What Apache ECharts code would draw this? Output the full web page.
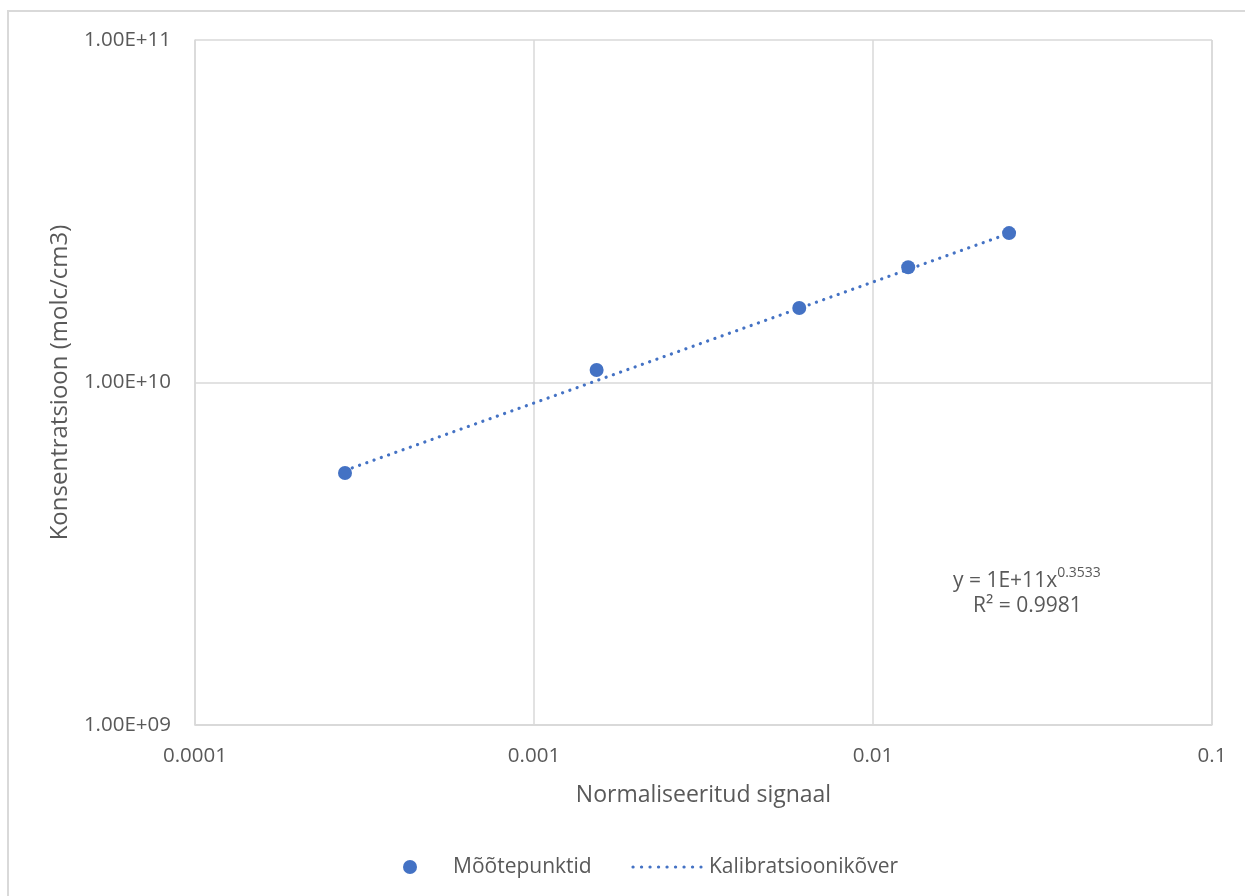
<!DOCTYPE html>
<html>
<head>
<meta charset="utf-8">
<script src="https://cdn.jsdelivr.net/npm/echarts@6/dist/echarts.min.js"></script>
<style>
  html, body { margin: 0; padding: 0; background: #fff; }
  #chart { width: 1245px; height: 896px; }
</style>
</head>
<body>
<div id="chart"></div>
<script>
// Measured points: normalised signal vs. concentration (molc/cm3)
const signal = [0.000277, 0.00153, 0.00606, 0.0127, 0.0252];
const concentration = [5.44e9, 1.088e10, 1.65e10, 2.17e10, 2.73e10];

// Power-law calibration fit: y = A * x^b
const fitA = 1e11;
const fitB = 0.3533;
const fitR2 = 0.9981;

const xMin = 0.0001, xMax = 0.1;
const yMin = 1e9, yMax = 1e11;
const xTickLabels = ['0.0001', '0.001', '0.01', '0.1'];
const yTickLabels = ['1.00E+09', '1.00E+10', '1.00E+11'];

const seriesNames = ['Mõõtepunktid', 'Kalibratsioonikõver'];
const xTitle = 'Normaliseeritud signaal';
const yTitle = 'Konsentratsioon (molc/cm3)';

const FONT = '"Open Sans", sans-serif';
const TXT = '#595959';
const GRID = '#d9d9d9';
const BLUE = '#4472C4';

// straight on log-log axes, so the ends of the fitted range suffice
const xFirst = signal[0], xLast = signal[signal.length - 1];
const fitLine = [xFirst, xLast].map(x => [x, fitA * Math.pow(x, fitB)]);

// decade label lookup by value
const decadeLabel = (labels, base) => v => {
  const k = Math.round(Math.log10(v / base));
  return labels[k] !== undefined ? labels[k] : '';
};

const DOTS = [0.1, 7.6];
const LEGEND_Y = 867;

const chart = echarts.init(document.getElementById('chart'), null, { renderer: 'canvas' });
chart.setOption({
  animation: false,
  backgroundColor: '#fff',
  textStyle: { fontFamily: FONT },
  grid: { left: 195, right: 33, top: 40, bottom: 171 },
  xAxis: {
    type: 'log', logBase: 10, min: xMin, max: xMax,
    name: xTitle, nameLocation: 'middle', nameGap: 59,
    nameTextStyle: { color: TXT, fontSize: 23, fontFamily: FONT },
    axisLine: { show: true, lineStyle: { color: GRID, width: 1.5 } },
    axisTick: { show: false },
    splitLine: { show: true, lineStyle: { color: GRID, width: 1.5 } },
    axisLabel: {
      color: TXT, fontSize: 20.5, fontFamily: FONT, margin: 21,
      showMinLabel: true, showMaxLabel: true,
      formatter: decadeLabel(xTickLabels, xMin)
    }
  },
  yAxis: {
    type: 'log', logBase: 10, min: yMin, max: yMax,
    name: yTitle, nameLocation: 'middle', nameGap: 123,
    nameTextStyle: { color: TXT, fontSize: 24, fontFamily: FONT },
    axisLine: { show: true, lineStyle: { color: GRID, width: 1.5 } },
    axisTick: { show: false },
    splitLine: { show: true, lineStyle: { color: GRID, width: 1.5 } },
    axisLabel: {
      color: TXT, fontSize: 20.5, fontFamily: FONT, margin: 24,
      showMinLabel: true, showMaxLabel: true,
      formatter: decadeLabel(yTickLabels, yMin)
    }
  },
  series: [
    {
      name: seriesNames[1],
      type: 'line',
      data: fitLine,
      showSymbol: false,
      symbol: 'none',
      z: 2,
      lineStyle: { color: BLUE, width: 3.2, type: DOTS, cap: 'round' },
      itemStyle: { color: BLUE }
    },
    {
      name: seriesNames[0],
      type: 'scatter',
      data: signal.map((x, i) => [x, concentration[i]]),
      symbol: 'circle',
      symbolSize: 14,
      z: 3,
      itemStyle: { color: BLUE, opacity: 1 }
    }
  ],
  graphic: [
    {
      type: 'rect', silent: true, z: -1,
      shape: { x: 8, y: 11, width: 1300, height: 1000 },
      style: { fill: 'transparent', stroke: GRID, lineWidth: 2 }
    },
    // fit equation and goodness of fit
    {
      type: 'text', left: 953, top: 562,
      style: {
        text: '{b|y = 1E+11x}{s|' + fitB.toFixed(4) + '}',
        rich: {
          b: { fontSize: 21, fontFamily: FONT, fill: TXT, lineHeight: 30, verticalAlign: 'bottom' },
          s: { fontSize: 14, fontFamily: FONT, fill: TXT, lineHeight: 30, verticalAlign: 'top', padding: [4, 0, 0, 0] }
        }
      }
    },
    {
      type: 'text',
      style: { x: 973, y: 606, verticalAlign: 'middle', text: 'R² = ' + fitR2.toFixed(4), font: '21px ' + FONT, fill: TXT }
    },
    // legend
    {
      type: 'circle', shape: { cx: 410, cy: LEGEND_Y, r: 7 }, style: { fill: BLUE }
    },
    {
      type: 'text',
      style: { x: 453, y: LEGEND_Y, verticalAlign: 'middle', text: seriesNames[0], font: '21px ' + FONT, fill: TXT }
    },
    {
      type: 'line', shape: { x1: 633, y1: LEGEND_Y, x2: 701, y2: LEGEND_Y },
      style: { stroke: BLUE, lineWidth: 3.2, lineDash: [0.1, 8.4], lineCap: 'round' }
    },
    {
      type: 'text',
      style: { x: 709, y: LEGEND_Y, verticalAlign: 'middle', text: seriesNames[1], font: '21px ' + FONT, fill: TXT }
    }
  ]
});
</script>
</body>
</html>
